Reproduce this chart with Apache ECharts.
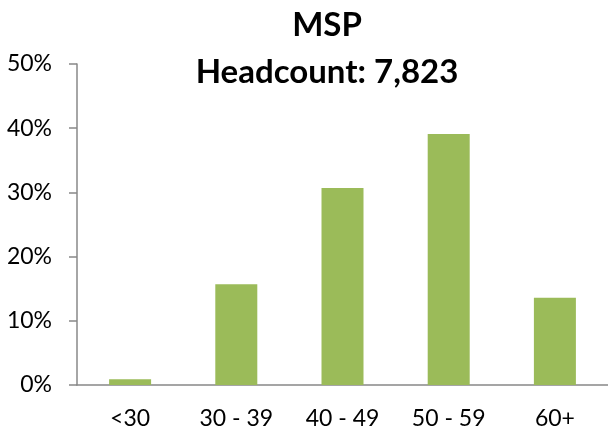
<!DOCTYPE html>
<html>
<head>
<meta charset="utf-8">
<script src="https://cdn.jsdelivr.net/npm/echarts@6/dist/echarts.min.js"></script>
<style>
  html, body { margin: 0; padding: 0; background: #fff; }
  #chart { width: 608px; height: 432px; }
</style>
</head>
<body>
<div id="chart"></div>
<script>
const categories = ['<30', '30 - 39', '40 - 49', '50 - 59', '60+']
const shares = [0.9, 15.7, 30.7, 39.1, 13.6]
const titleLines = ['MSP', 'Headcount: 7,823']

const font = 'Lato'
const axisGray = '#888888'

const chart = echarts.init(document.getElementById('chart'))

chart.setOption({
  animation: false,
  title: [
    {
      text: titleLines[0],
      left: 322, top: 4, textAlign: 'center',
      textStyle: { fontFamily: font, fontWeight: 'bold', fontSize: 33, color: '#000' }
    },
    {
      text: titleLines[1],
      left: 322, top: 51, textAlign: 'center',
      textStyle: { fontFamily: font, fontWeight: 'bold', fontSize: 33, color: '#000' }
    }
  ],
  grid: { left: 77, right: 0, top: 64, bottom: 47 },
  xAxis: {
    type: 'category',
    data: categories,
    axisLine: { lineStyle: { color: axisGray, width: 1.5 } },
    axisTick: { alignWithLabel: false, length: 7, lineStyle: { color: axisGray, width: 1.5 } },
    axisLabel: { color: '#000', fontFamily: font, fontSize: 23, margin: 22 }
  },
  yAxis: {
    type: 'value',
    min: 0,
    max: 50,
    interval: 10,
    axisLine: { show: true, lineStyle: { color: axisGray, width: 1.5 } },
    axisTick: { show: true, length: 8, lineStyle: { color: axisGray, width: 1.5 } },
    splitLine: { show: false },
    axisLabel: { color: '#000', fontFamily: font, fontSize: 23, margin: 25, formatter: '{value}%' }
  },
  series: [
    {
      type: 'bar',
      data: shares,
      barWidth: 42,
      itemStyle: { color: '#9BBB59' }
    }
  ]
})
</script>
</body>
</html>
